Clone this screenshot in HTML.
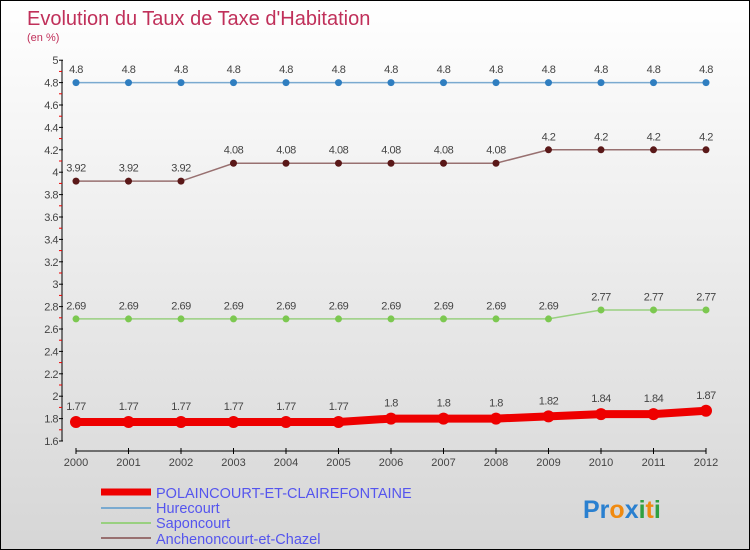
<!DOCTYPE html>
<html><head><meta charset="utf-8"><style>
body{margin:0;}
#c{position:relative;width:748px;height:548px;border:1px solid #000;background:linear-gradient(#ffffff,#d6d6d6);overflow:hidden;font-family:"Liberation Sans",sans-serif;}
</style></head><body>
<div id="c">
<svg id="s" width="748" height="548" xmlns="http://www.w3.org/2000/svg">
<text x="26" y="24" font-size="20" fill="#c0305a">Evolution du Taux de Taxe d'Habitation</text>
<text x="26" y="40" font-size="11" fill="#c0305a">(en %)</text>
<g id="axes"></g><g id="series"></g>
<g id="legend">
<line x1="100" y1="491" x2="150" y2="491" stroke="#ee0000" stroke-width="7"/>
<text x="155" y="497" font-size="14.5" fill="#5555ee">POLAINCOURT-ET-CLAIREFONTAINE</text>
<line x1="100" y1="507" x2="150" y2="507" stroke="#7aaad0" stroke-width="2"/>
<text x="155" y="512" font-size="14.5" fill="#5555ee">Hurecourt</text>
<line x1="100" y1="522" x2="150" y2="522" stroke="#99d080" stroke-width="2"/>
<text x="155" y="527" font-size="14.5" fill="#5555ee">Saponcourt</text>
<line x1="100" y1="537" x2="150" y2="537" stroke="#987070" stroke-width="2"/>
<text x="155" y="543" font-size="14.5" fill="#5555ee">Anchenoncourt-et-Chazel</text>
</g>
<text x="582" y="517" font-size="25" font-weight="bold"><tspan fill="#2a80d0">Pr</tspan><tspan fill="#f08a10">o</tspan><tspan fill="#2a80d0">x</tspan><tspan fill="#30a040">i</tspan><tspan fill="#f08a10">t</tspan><tspan fill="#30a040">i</tspan></text>
</svg>
</div>
<script>
const years=[2000,2001,2002,2003,2004,2005,2006,2007,2008,2009,2010,2011,2012];
const yTicks=[1.6,1.8,2,2.2,2.4,2.6,2.8,3,3.2,3.4,3.6,3.8,4,4.2,4.4,4.6,4.8,5];
const hurecourt=[4.8,4.8,4.8,4.8,4.8,4.8,4.8,4.8,4.8,4.8,4.8,4.8,4.8];
const anchenoncourt=[3.92,3.92,3.92,4.08,4.08,4.08,4.08,4.08,4.08,4.2,4.2,4.2,4.2];
const saponcourt=[2.69,2.69,2.69,2.69,2.69,2.69,2.69,2.69,2.69,2.69,2.77,2.77,2.77];
const polaincourt=[1.77,1.77,1.77,1.77,1.77,1.77,1.8,1.8,1.8,1.82,1.84,1.84,1.87];
const NS="http://www.w3.org/2000/svg";
const xs=i=>75+i*52.5;
const ys=v=>440-(v-1.6)/0.2*22.4;
function mk(t,a,p){const e=document.createElementNS(NS,t);for(const k in a)e.setAttribute(k,a[k]);p.appendChild(e);return e;}
const ax=document.getElementById('axes');
const yl=mk('line',{x1:61,y1:59,x2:61,y2:440,stroke:'#000'},ax);


yTicks.forEach((v,k)=>{
 const y=ys(v);
 mk('line',{x1:58,y1:y,x2:62,y2:y,stroke:'#000'},ax);
 if(k>0) mk('line',{x1:58,y1:y+11.2,x2:61,y2:y+11.2,stroke:'#e00'},ax);
 const t=mk('text',{x:57,y:y+4,'font-size':11,fill:'#444','text-anchor':'end','letter-spacing':'-0.5'},ax);
 t.textContent=String(v);
 
 
});
const xl=mk('line',{x1:75,y1:450,x2:705,y2:450,stroke:'#000'},ax);


years.forEach((yr,i)=>{
 mk('line',{x1:xs(i),y1:447,x2:xs(i),y2:453,stroke:'#000'},ax);
 const t=mk('text',{x:xs(i),y:465,'font-size':11,fill:'#444','text-anchor':'middle'},ax);
 t.textContent=yr;
 
 
});
const sg=document.getElementById('series');
function draw(data,name,col,dot,w,r){
 const g=mk('g',{},sg);
 
 
 const l=mk('polyline',{points:data.map((v,i)=>xs(i)+','+ys(v)).join(' '),fill:'none',stroke:col,'stroke-width':w},g);
 
 
 data.forEach((v,i)=>{
  const c=mk('circle',{cx:xs(i),cy:ys(v),r:r,fill:dot},g);
  
  
  const t=mk('text',{x:xs(i),y:ys(v)-(r+6),'font-size':11,fill:'#444','text-anchor':'middle','letter-spacing':'-0.5'},g);
  t.textContent=String(v);
  
  
 });
}
draw(hurecourt,'hurecourt','#7aaad0','#2f7ec0',1.5,3.5);
draw(anchenoncourt,'anchenoncourt','#987070','#5a1818',1.5,3.5);
draw(saponcourt,'saponcourt','#99d080','#7cc850',1.5,3.5);
draw(polaincourt,'polaincourt','#ee0000','#ee0000',8,6);
</script>
</body></html>
